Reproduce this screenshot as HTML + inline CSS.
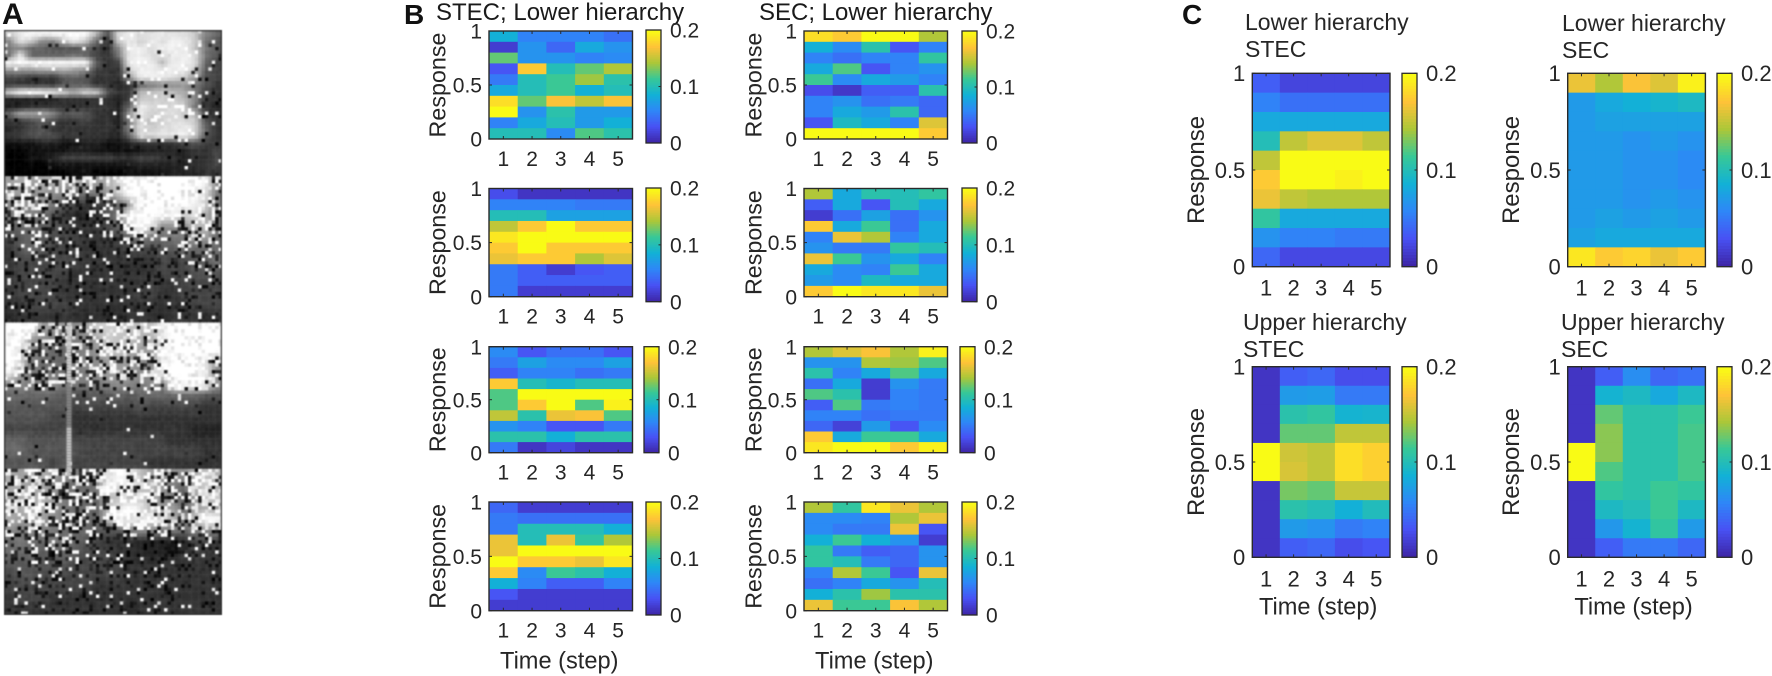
<!DOCTYPE html>
<html lang="en">
<head>
<meta charset="utf-8">
<title>Neural response heatmaps</title>
<style>
  html, body { margin: 0; padding: 0; background: #fff; }
  #stage { position: relative; width: 1772px; height: 676px; overflow: hidden; background: #fff; }
  #photos { position: absolute; left: 4px; top: 30px; filter: blur(0.5px); }
  #figure { position: absolute; left: 0; top: 0; }
  text { font-family: "Liberation Sans", sans-serif; fill: #262626; }
</style>
</head>
<body>
<div id="stage">
  <canvas id="photos" width="218" height="585"></canvas>
  <svg id="figure" width="1772" height="676" xmlns="http://www.w3.org/2000/svg">
    <text x="2" y="24" font-size="30" font-weight="700" style="fill:#111">A</text>
    <text x="404" y="24" font-size="28" font-weight="700" style="fill:#111">B</text>
    <text x="1182" y="24" font-size="28" font-weight="700" style="fill:#111">C</text>
    <text x="436" y="20" font-size="24" style="fill:#1a1a1a">STEC; Lower hierarchy</text>
    <text x="759" y="20" font-size="24" style="fill:#1a1a1a">SEC; Lower hierarchy</text>
    <text x="1245" y="30" font-size="23">Lower hierarchy</text>
    <text x="1245" y="57" font-size="23">STEC</text>
    <text x="1562" y="31" font-size="23">Lower hierarchy</text>
    <text x="1562" y="58" font-size="23">SEC</text>
    <text x="1243" y="330" font-size="23">Upper hierarchy</text>
    <text x="1243" y="357" font-size="23">STEC</text>
    <text x="1561" y="330" font-size="23">Upper hierarchy</text>
    <text x="1561" y="357" font-size="23">SEC</text>
  </svg>
</div>
<script>
// ---- chart data: response probability per row (top to bottom) and time step ----
const timeSteps = [1, 2, 3, 4, 5];
const responseTicks = [0, 0.5, 1];
const colorbarTicks = [0, 0.1, 0.2];
const colorMax = 0.2;

const stecB1 = [
  [.085,.055,.055,.055,.045],[.015,.065,.04,.08,.065],[.125,.065,.065,.055,.06],
  [.03,.175,.10,.125,.145],[.05,.10,.115,.14,.105],[.08,.10,.115,.085,.10],
  [.185,.125,.17,.15,.17],[.2,.065,.105,.07,.07],[.055,.08,.10,.07,.085],[.10,.10,.06,.12,.105]];
const stecB2 = [
  [.025,.01,.01,.01,.01],[.055,.055,.055,.05,.05],[.10,.10,.075,.075,.075],
  [.15,.175,.2,.175,.175],[.19,.2,.2,.2,.2],[.175,.2,.175,.175,.175],
  [.165,.175,.175,.145,.16],[.05,.035,.015,.03,.035],[.05,.035,.035,.035,.035],[.05,.015,.015,.015,.015]];
const stecB3 = [
  [.06,.03,.045,.045,.03],[.05,.075,.06,.06,.075],[.035,.055,.055,.045,.05],
  [.175,.10,.09,.10,.10],[.12,.2,.2,.2,.2],[.12,.175,.2,.12,.195],
  [.15,.105,.165,.17,.12],[.065,.055,.03,.03,.05],[.105,.105,.085,.105,.105],[.05,.01,.02,.01,.01]];
const stecB4 = [
  [.04,.015,.015,.015,.015],[.05,.045,.045,.045,.045],[.05,.10,.10,.10,.085],
  [.165,.10,.165,.11,.145],[.165,.2,.2,.2,.2],[.2,.175,.175,.165,.19],
  [.175,.06,.115,.105,.085],[.085,.055,.035,.035,.055],[.03,.015,.015,.015,.015],[.015,.015,.015,.015,.015]];
const secB1 = [
  [.185,.175,.2,.2,.145],[.085,.06,.105,.03,.055],[.055,.045,.055,.055,.11],
  [.08,.12,.03,.055,.065],[.115,.06,.08,.07,.055],[.025,.012,.035,.035,.105],
  [.055,.065,.045,.05,.04],[.055,.08,.07,.105,.04],[.03,.095,.08,.055,.16],[.2,.2,.2,.2,.175]];
const secB2 = [
  [.145,.08,.105,.10,.11],[.035,.08,.03,.10,.08],[.015,.045,.075,.045,.065],
  [.175,.08,.115,.045,.08],[.055,.165,.145,.055,.08],[.065,.05,.05,.11,.10],
  [.165,.115,.065,.08,.055],[.08,.06,.055,.115,.08],[.07,.06,.095,.08,.08],[.175,.2,.19,.19,.165]];
const secB3 = [
  [.145,.16,.17,.145,.195],[.065,.065,.145,.14,.12],[.105,.055,.08,.12,.08],
  [.045,.08,.015,.065,.05],[.12,.105,.015,.055,.05],[.035,.12,.05,.055,.05],
  [.055,.055,.045,.05,.05],[.04,.018,.07,.03,.06],[.175,.08,.115,.115,.08],[.19,.2,.2,.175,.195]];
const secB4 = [
  [.145,.11,.19,.165,.145],[.06,.06,.055,.145,.165],[.06,.05,.05,.165,.03],
  [.085,.115,.085,.065,.015],[.11,.05,.035,.04,.065],[.11,.10,.05,.04,.065],
  [.055,.145,.115,.03,.165],[.045,.055,.08,.065,.10],[.085,.105,.14,.105,.105],[.165,.115,.115,.17,.145]];
const lowerStec = [
  [.035,.02,.02,.02,.02],[.055,.045,.045,.045,.045],[.08,.08,.08,.08,.08],
  [.10,.15,.16,.16,.15],[.15,.2,.2,.2,.2],[.175,.2,.2,.195,.2],
  [.165,.15,.145,.145,.145],[.11,.08,.08,.08,.08],[.065,.055,.055,.05,.05],[.04,.022,.022,.022,.022]];
const lowerSec = [
  [.165,.145,.17,.16,.195],[.07,.08,.085,.09,.095],[.07,.075,.075,.075,.075],
  [.07,.07,.065,.07,.065],[.07,.07,.065,.065,.06],[.07,.07,.065,.065,.06],
  [.07,.07,.065,.07,.065],[.07,.075,.07,.075,.07],[.075,.08,.08,.08,.08],[.19,.175,.18,.165,.175]];
const upperStec = [
  [.01,.035,.04,.025,.025],[.01,.07,.072,.05,.05],[.01,.105,.11,.088,.09],
  [.01,.125,.125,.15,.15],[.2,.155,.15,.185,.178],[.2,.158,.15,.185,.178],
  [.01,.13,.125,.152,.152],[.01,.105,.10,.085,.098],[.01,.07,.065,.05,.055],[.01,.035,.04,.025,.03]];
const upperSec = [
  [.01,.035,.062,.04,.045],[.01,.088,.095,.08,.095],[.01,.125,.105,.105,.115],
  [.01,.135,.105,.105,.118],[.2,.135,.105,.105,.118],[.2,.12,.105,.105,.118],
  [.01,.11,.105,.115,.11],[.01,.095,.10,.115,.095],[.01,.068,.088,.11,.07],[.01,.035,.05,.05,.04]];

// ---- layout (pixels) kept apart from the data ----
const BL = 489, BW = 143.5, B2 = 804, CW = 137.7;
const panelLayouts = [
  {id:'stec-b1', d:stecB1, x:BL, y:31, w:BW, h:108, cx:646, cy:30, cb:113, fs:21, rx:445.5},
  {id:'stec-b2', d:stecB2, x:BL, y:188.5, w:BW, h:108.2, cx:646, cy:188, cb:113.7, fs:21, rx:445.5},
  {id:'stec-b3', d:stecB3, x:BL, y:346.7, w:BW, h:106, cx:644, cy:346.7, cb:106, fs:21, rx:445.5},
  {id:'stec-b4', d:stecB4, x:BL, y:502, w:BW, h:108.7, cx:646, cy:502, cb:113, fs:21, rx:445.5, xl:true},
  {id:'sec-b1', d:secB1, x:B2, y:31, w:BW, h:108, cx:962, cy:31, cb:112, fs:21, rx:761.5},
  {id:'sec-b2', d:secB2, x:B2, y:188.5, w:BW, h:108.2, cx:962, cy:188, cb:113.7, fs:21, rx:761.5},
  {id:'sec-b3', d:secB3, x:B2, y:346.7, w:BW, h:106, cx:960, cy:346.7, cb:106, fs:21, rx:761.5},
  {id:'sec-b4', d:secB4, x:B2, y:502, w:BW, h:108.7, cx:962, cy:502, cb:113, fs:21, rx:761.5, xl:true},
  {id:'lower-stec', d:lowerStec, x:1252.3, y:73.3, w:CW, h:193.4, cx:1402, cy:73.3, cb:193.4, fs:22, rx:1204},
  {id:'lower-sec', d:lowerSec, x:1567.7, y:73.3, w:CW, h:193.4, cx:1717, cy:73.3, cb:193.4, fs:22, rx:1519},
  {id:'upper-stec', d:upperStec, x:1252.3, y:366.7, w:CW, h:190.6, cx:1402, cy:366.7, cb:190.6, fs:22, rx:1204, xl:true},
  {id:'upper-sec', d:upperSec, x:1567.7, y:366.7, w:CW, h:190.6, cx:1717, cy:366.7, cb:190.6, fs:22, rx:1519, xl:true}
];

const SVGNS = 'http://www.w3.org/2000/svg';
const figure = document.getElementById('figure');
const AXIS = '#2a2a2a';

const parulaStops = [[62,38,168],[72,82,244],[46,135,247],[18,177,214],[55,200,151],[171,199,57],[254,195,56],[249,251,21]];
function parula(t) {
  t = Math.max(0, Math.min(1, t)) * (parulaStops.length - 1);
  const i = Math.min(Math.floor(t), parulaStops.length - 2), f = t - i;
  const a = parulaStops[i], b = parulaStops[i + 1];
  return 'rgb(' + a.map((v, k) => Math.round(v + (b[k] - v) * f)).join(',') + ')';
}
function make(tag, attrs, parent, text) {
  const el = document.createElementNS(SVGNS, tag);
  for (const k in attrs) el.setAttribute(k, attrs[k]);
  if (text !== undefined) el.textContent = text;
  parent.appendChild(el);
  return el;
}

function drawPanel(p) {
  const g = make('g', {}, figure);
  
  
  const rows = p.d.length, cols = p.d[0].length;
  const xBand = p.w / cols, yBand = p.h / rows;
  const xScale = step => p.x + (step - 0.5) * xBand;
  const yScale = resp => p.y + p.h - resp * p.h;
  const rowTop = r => p.y + r * yBand;
  const colorOf = v => parula(v / colorMax);

  p.d.forEach((row, r) => row.forEach((v, c) => {
    const cell = make('rect', {x: xScale(c + 1) - xBand / 2, y: rowTop(r), width: xBand + 0.4, height: yBand + 0.4, fill: colorOf(v)}, g);
    
    
  }));

  const box = make('rect', {x: p.x, y: p.y, width: p.w, height: p.h, fill: 'none', stroke: AXIS, 'stroke-width': 1.4}, g);
  
  

  timeSteps.forEach(s => {
    const x = xScale(s);
    make('line', {x1: x, x2: x, y1: p.y + p.h, y2: p.y + p.h - 3, stroke: AXIS, 'stroke-width': 1}, g);
    make('line', {x1: x, x2: x, y1: p.y, y2: p.y + 3, stroke: AXIS, 'stroke-width': 1}, g);
    const lab = make('text', {x: x, y: p.y + p.h + (p.fs === 22 ? 29 : 27), 'text-anchor': 'middle', 'font-size': p.fs}, g, String(s));
    
    
  });
  responseTicks.forEach(t => {
    const y = yScale(t);
    make('line', {x1: p.x, x2: p.x + 3, y1: y, y2: y, stroke: AXIS, 'stroke-width': 1}, g);
    make('line', {x1: p.x + p.w, x2: p.x + p.w - 3, y1: y, y2: y, stroke: AXIS, 'stroke-width': 1}, g);
    const lab = make('text', {x: p.x - 7, y: y + p.fs * 0.36, 'text-anchor': 'end', 'font-size': p.fs}, g, String(t));
    
    
  });

  const ylab = make('text', {transform: 'translate(' + p.rx + ',' + (p.y + p.h / 2) + ') rotate(-90)', 'text-anchor': 'middle', 'font-size': p.fs === 22 ? 24 : 23.3}, g, 'Response');
  
  

  if (p.xl) {
    const xlab = make('text', {x: p.x + p.w / 2 - (p.fs === 22 ? 3 : 1.5), y: p.y + p.h + (p.fs === 22 ? 57 : 58), 'text-anchor': 'middle', 'font-size': 23.6}, g, 'Time (step)');
    
    
  }

  // colorbar
  const cbW = 15, steps = 64;
  const cbg = make('g', {}, g);
  
  
  for (let i = 0; i < steps; i++) {
    const sh = p.cb / steps;
    make('rect', {x: p.cx, y: p.cy + p.cb - (i + 1) * sh, width: cbW, height: sh + 0.4, fill: parula(i / (steps - 1))}, cbg);
  }
  make('rect', {x: p.cx, y: p.cy, width: cbW, height: p.cb, fill: 'none', stroke: AXIS, 'stroke-width': 1.3}, cbg);
  colorbarTicks.forEach(t => {
    const y = p.cy + p.cb - (t / colorMax) * p.cb;
    make('line', {x1: p.cx + cbW, x2: p.cx + cbW - 2.5, y1: y, y2: y, stroke: AXIS, 'stroke-width': 1}, cbg);
    const lab = make('text', {x: p.cx + cbW + 9, y: y + p.fs * 0.36, 'font-size': p.fs}, cbg, String(t));
    
    
  });
}
panelLayouts.forEach(drawPanel);

// ---- panel A: low-resolution greyscale scenes (brightness hex grids + grain texture) ----
const scene1 = [
  "ceffffffb5deddeddc86","8ec88cec63cecedeec75","78665556438eedeeec75","7e666676437eeddeed75",
  "ffffffff534eeebeed64","999aaa98433ceeeeec54","443335653339eeedc954","33333555332367889753",
  "cfffecadc533bbcba743","222223333324ccccb833","223333333326edcdc732","6aaa85653329ecddcb43",
  "334543343327dbcddc53","234533333328dcdded63","345553433326ddeeec53","11122112211233334543",
  "00111122111112222334","00112444443344332334","00001111111122222334","00000011000111122233"];
const scene2 = [
  "9a9aa9aa9acfffffffe8","9989886779cfffffffd7","8988754334" + "69fffffec7","7776532235" + "7effeecda7",
  "5665543334" + "6bfd888ab7","4565444333" + "4586677996","3565443333" + "3444556666","3444444333" + "3333444557",
  "3444443333" + "3333444555","3444433333" + "3334334444","3444433333" + "3344334444","3344443333" + "3333333444",
  "2333333232" + "2333233323"];
const scene3 = [
  "fff99989cccbbbefffff","ff9876789cbbaadfffff","fd8766779bca99efffff","fc766678899988efffe9",
  "e9777677899988efffd8","887887777888787effe9"+"",
  "66666545556566666655","55555544444454444433","55554433333333333333","44444433333333333222",
  "66555544444444433333","66555554444444444433","55554544444443333333"];
const scene4 = [
  "a9aa98788dfeb9988aba","aa9a87667ddcbb976aca","9aaa97666bbbbb8759cc","9aba97665bdfea9969a9",
  "a9a987666befedcb7cff","87877666555788776788","67667665433322212443","66656654443322223433",
  "55555544444333333333","45544444444333333333","44444444333333333333","34443333333333333333",
  "33333333333233333333"];
const speckle1 = [.12,.12,.12,.15,.2,.18,.22,.22,.22,.1,.08,.1,.05];
const speckle2 = [.65,.65,.65,.65,.6,.55,.5,.45,.4,.4,.35,.35,.3];
const speckle3 = [.65,.7,.7,.7,.7,.6,.15,.04,.02,.02,.03,.03,.03];
const speckle4 = [.8,.8,.8,.8,.8,.65,.55,.5,.45,.4,.35,.3,.3];

(function drawPhotos() {
  const cv = document.getElementById('photos');
  const ctx = cv.getContext('2d');
  ctx.fillStyle = '#fff';
  ctx.fillRect(0, 0, cv.width, cv.height);
  const scenes = [scene1, scene2, scene3, scene4];
  const speckles = [speckle1, speckle2, speckle3, speckle4];
  const pxW = cv.width / 64, sceneH = cv.height / 4, fineRows = 43, pxH = sceneH / fineRows;
  let seed = 20240611;
  function tex() { // small deterministic generator used only for photo grain
    seed = (seed * 1664525 + 1013904223) >>> 0;
    return seed / 4294967296;
  }
  function sample(grid, gx, gy) {
    const R = grid.length, C = 20;
    const x = Math.max(0, Math.min(C - 1.001, gx)), y = Math.max(0, Math.min(R - 1.001, gy));
    const x0 = Math.floor(x), y0 = Math.floor(y), fx = x - x0, fy = y - y0;
    const at = (rr, cc) => parseInt((grid[rr] || '')[cc] || '3', 16) / 15;
    return (at(y0, x0) * (1 - fx) + at(y0, x0 + 1) * fx) * (1 - fy) + (at(y0 + 1, x0) * (1 - fx) + at(y0 + 1, x0 + 1) * fx) * fy;
  }
  scenes.forEach((grid, si) => {
    const R = grid.length;
    for (let r = 0; r < fineRows; r++) {
      for (let c = 0; c < 64; c++) {
        let v = sample(grid, (c + 0.5) / 64 * 20 - 0.5, (r + 0.5) / fineRows * R - 0.5);
        const sr = Math.min(12, Math.floor(r / fineRows * 13));
        const gc = Math.floor(c / 64 * 20);
        const speck = speckles[si][sr] * (gc > 10 || si !== 0 ? 1 : 0.5);
        const rnd = tex();
        if (rnd < speck * 0.75) {
          v = tex() < v ? Math.min(1, 0.85 + tex() * 0.25) : tex() * 0.2;
        } else {
          v += (rnd - 0.5) * 0.05;
        }
        const gv = Math.max(0, Math.min(255, Math.round(v * 255)));
        ctx.fillStyle = 'rgb(' + gv + ',' + gv + ',' + gv + ')';
        ctx.fillRect(c * pxW, si * sceneH + r * pxH, pxW + 0.5, pxH + 0.5);
      }
    }
  });
  // lamp post in the third scene
  const top = sceneH * 2;
  for (let y = 0; y < sceneH + 4; y += 3) {
    const frac = y / sceneH;
    const gv = frac < 0.4 ? 200 : frac < 0.7 ? 130 : 190;
    ctx.fillStyle = 'rgb(' + gv + ',' + gv + ',' + gv + ')';
    ctx.fillRect(62.5, top + y, 5, 3);
  }
  ctx.strokeStyle = '#333';
  ctx.lineWidth = 1.5;
  ctx.strokeRect(0.5, 0.5, cv.width - 1, cv.height - 1);
})();
</script>
</body>
</html>
